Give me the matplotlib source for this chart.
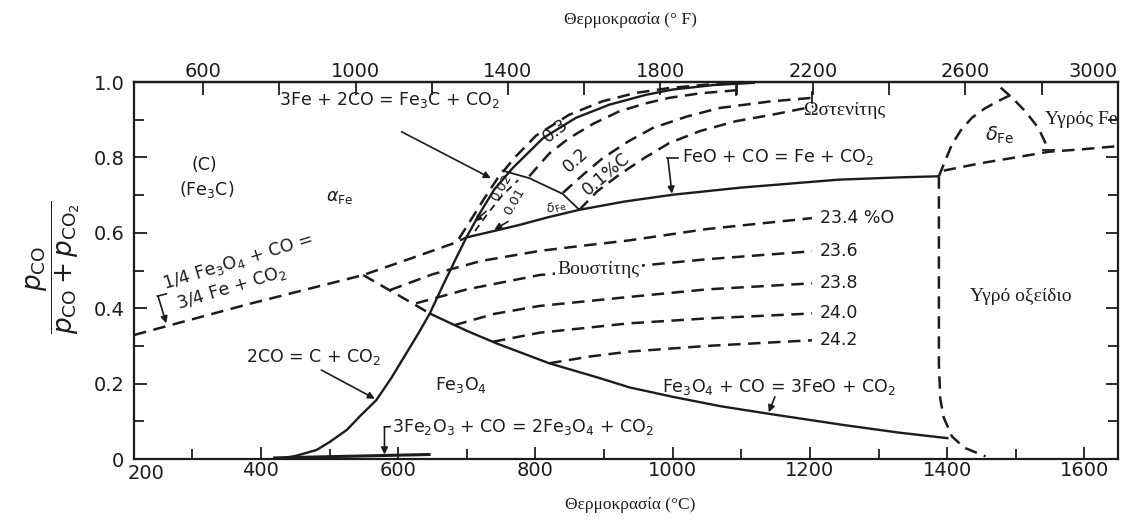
"""Fe-C-O equilibrium diagram (Baur-Glaessner) redrawn from the scanned figure."""
import matplotlib
matplotlib.use("Agg")
import matplotlib.pyplot as plt
import matplotlib.transforms as mtransforms
from matplotlib.ticker import FixedLocator

# all values: temperature in C, ratio pCO/(pCO+pCO2)
boudouard_t = [423, 450, 481, 500, 525, 545, 568, 590, 610, 630, 646, 665, 685, 700,
               720, 740, 767, 811, 859, 908, 961, 1000, 1060, 1120]
boudouard_y = [0.0, 0.008, 0.024, 0.045, 0.077, 0.115, 0.156, 0.215, 0.275, 0.335, 0.386,
               0.46, 0.535, 0.59, 0.655, 0.715, 0.772, 0.851, 0.905, 0.94, 0.966, 0.98,
               0.992, 0.998]

# Fe3O4/Fe line, metastable FeO/Fe part, then Fe3C line (one dashed path)
fe_fe3c_t = [215, 380, 549, 620, 685, 694, 709, 725, 745, 770, 801, 849, 898, 946, 995,
             1050, 1100]
fe_fe3c_y = [0.329, 0.41, 0.488, 0.533, 0.575, 0.60, 0.643, 0.69, 0.745, 0.80, 0.858,
             0.913, 0.949, 0.971, 0.984, 0.993, 0.998]

feo_fe_t = [690, 700, 740, 777, 820, 864, 930, 1000, 1100, 1242, 1330, 1388]
feo_fe_y = [0.58, 0.588, 0.605, 0.621, 0.642, 0.661, 0.683, 0.701, 0.72, 0.741, 0.747, 0.75]

mag_wus_dash_t = [549, 590, 620, 646]
mag_wus_dash_y = [0.488, 0.445, 0.414, 0.386]
mag_wus_t = [646, 700, 743, 820, 893, 937, 1000, 1070, 1140, 1250, 1330, 1402]
mag_wus_y = [0.386, 0.34, 0.307, 0.254, 0.215, 0.19, 0.165, 0.14, 0.12, 0.09, 0.07, 0.055]

hematite_t = [420, 645]
hematite_y = [0.003, 0.012]

# wustite iso-oxygen lines
oxygen_labels = ["23.4 %O", "23.6", "23.8", "24.0", "24.2"]
oxygen_t = [
    [588, 650, 720, 806, 870, 937, 1050, 1203],
    [626, 700, 806, 937, 1050, 1203],
    [682, 740, 806, 937, 1050, 1203],
    [738, 806, 937, 1050, 1203],
    [820, 880, 937, 1050, 1203],
]
oxygen_y = [
    [0.448, 0.49, 0.525, 0.552, 0.566, 0.58, 0.61, 0.639],
    [0.413, 0.45, 0.488, 0.51, 0.53, 0.551],
    [0.355, 0.385, 0.406, 0.43, 0.45, 0.466],
    [0.311, 0.335, 0.36, 0.373, 0.386],
    [0.254, 0.272, 0.285, 0.30, 0.315],
]

# alpha/gamma boundary and carbon isopleths
alpha_gamma_t = [752, 791, 840, 864]
alpha_gamma_y = [0.765, 0.745, 0.703, 0.661]
alpha_c_t = [712, 730, 752, 775]
alpha_c_y = [0.605, 0.65, 0.70, 0.74]
c03_t = [791, 820, 849, 885, 922, 960, 995, 1040, 1092]
c03_y = [0.75, 0.81, 0.851, 0.89, 0.922, 0.943, 0.958, 0.97, 0.978]
c02_t = [840, 870, 898, 935, 971, 1020, 1068, 1140, 1203]
c02_y = [0.706, 0.755, 0.798, 0.842, 0.878, 0.908, 0.931, 0.948, 0.958]
c01_t = [864, 890, 922, 960, 995, 1040, 1092, 1150, 1205]
c01_y = [0.661, 0.71, 0.754, 0.80, 0.838, 0.87, 0.896, 0.915, 0.935]

# high temperature boundaries
gamma_delta_t = [1388, 1398, 1407, 1420, 1436, 1455, 1475, 1492]
gamma_delta_y = [0.75, 0.795, 0.834, 0.872, 0.905, 0.93, 0.95, 0.965]
delta_liq_t = [1478, 1495, 1514, 1533, 1548]
delta_liq_y = [0.985, 0.958, 0.922, 0.878, 0.82]
liquid_fe_t = [1395, 1450, 1500, 1548, 1600, 1649]
liquid_fe_y = [0.765, 0.785, 0.80, 0.815, 0.822, 0.83]
liq_oxide_t = [1388, 1388, 1388, 1390, 1395, 1407, 1425, 1456]
liq_oxide_y = [0.75, 0.5, 0.25, 0.16, 0.11, 0.06, 0.03, 0.007]

c_ticks = [200, 400, 600, 800, 1000, 1200, 1400, 1600]
f_ticks = [600, 1000, 1400, 1800, 2200, 2600, 3000]
y_ticks = [0, 0.2, 0.4, 0.6, 0.8, 1.0]
y_labels = ["0", "0.2", "0.4", "0.6", "0.8", "1.0"]

INK = "#1c1c1c"
SANS = "DejaVu Sans"
SERIF = "Liberation Serif"
DASH = (0, (5, 3))


def c2f(t):
    return t * 9 / 5 + 32


def f2c(f):
    return (f - 32) * 5 / 9


def arrow(ax, tail, tip):
    ax.annotate("", xy=tip, xytext=tail,
                arrowprops=dict(arrowstyle="-|>", color=INK, lw=1.2,
                                mutation_scale=10, shrinkA=0, shrinkB=0))


def main():
    fig = plt.figure(figsize=(11.31, 5.24), dpi=100)
    ax = fig.add_axes([0.1185, 0.124, 0.870, 0.7195])
    ax.set_xlim(215, 1649)
    ax.set_ylim(0, 1)
    for sp in ax.spines.values():
        sp.set_linewidth(1.6)
        sp.set_color(INK)

    solid = dict(color=INK, lw=1.7, solid_capstyle="butt")
    dashed = dict(color=INK, lw=1.8, linestyle=DASH)

    ax.plot(boudouard_t, boudouard_y, **solid)
    ax.plot(fe_fe3c_t, fe_fe3c_y, **dashed)
    ax.plot(feo_fe_t, feo_fe_y, **solid)
    ax.plot(mag_wus_dash_t, mag_wus_dash_y, **dashed)
    ax.plot(mag_wus_t, mag_wus_y, **solid)
    ax.plot(hematite_t, hematite_y, color=INK, lw=2.2)
    for ts, ys in zip(oxygen_t, oxygen_y):
        ax.plot(ts, ys, **dashed)
    ax.plot(alpha_gamma_t, alpha_gamma_y, color=INK, lw=1.3)
    ax.plot(alpha_c_t, alpha_c_y, color=INK, lw=1.3, linestyle=(0, (4, 3)))
    for ts, ys in [(c03_t, c03_y), (c02_t, c02_y), (c01_t, c01_y)]:
        ax.plot(ts, ys, **dashed)
    ax.plot([c03_t[-1]] * 2, [c03_y[-1] - 0.012, c03_y[-1] + 0.012], color=INK, lw=1.3)
    ax.plot([c02_t[-1]] * 2, [c02_y[-1] - 0.015, c02_y[-1] + 0.015], color=INK, lw=1.3)
    ax.plot(gamma_delta_t, gamma_delta_y, **dashed)
    ax.plot(delta_liq_t, delta_liq_y, **dashed)
    ax.plot([1540, 1556], [delta_liq_y[-1]] * 2, color=INK, lw=1.3)
    ax.plot(liquid_fe_t, liquid_fe_y, **dashed)
    ax.plot(liq_oxide_t, liq_oxide_y, **dashed)

    # axes and ticks
    ax.xaxis.set_major_locator(FixedLocator(c_ticks))
    ax.xaxis.set_minor_locator(FixedLocator([t + 100 for t in c_ticks]))
    ax.set_xticklabels([""] + [str(t) for t in c_ticks[1:]])
    ax.yaxis.set_major_locator(FixedLocator(y_ticks))
    ax.yaxis.set_minor_locator(FixedLocator([v + 0.1 for v in y_ticks[:-1]]))
    ax.set_yticklabels(y_labels)
    ax.tick_params(which="both", direction="in", right=True, color=INK, width=1.3,
                   labelsize=14, labelcolor=INK)
    ax.tick_params(which="major", length=9)
    ax.tick_params(which="minor", length=7)
    ax.tick_params(axis="x", pad=1.5)
    ax.tick_params(axis="y", pad=7)
    for lab in ax.get_xticklabels() + ax.get_yticklabels():
        lab.set_family(SANS)
    low = mtransforms.blended_transform_factory(ax.transData, ax.transAxes)
    ax.text(233, -0.012, "200", transform=low, ha="center", va="top",
            fontsize=14, color=INK, family=SANS)

    top = ax.secondary_xaxis("top", functions=(c2f, f2c))
    top.xaxis.set_major_locator(FixedLocator(f_ticks))
    top.xaxis.set_minor_locator(FixedLocator([f + 200 for f in f_ticks[:-1]]))
    top.set_xticklabels([str(f) for f in f_ticks])
    top.tick_params(which="both", direction="in", color=INK, width=1.3,
                    labelsize=14, labelcolor=INK, pad=0.5)
    top.tick_params(which="major", length=9)
    top.tick_params(which="minor", length=9)
    top.spines["top"].set_linewidth(1.6)
    top.get_xticklabels()[-1].set_ha("right")

    fig.text(0.557, 0.962, "Θερμοκρασία (° F)", ha="center", va="center",
             fontsize=12.5, family=SERIF, color=INK)
    fig.text(0.557, 0.036, "Θερμοκρασία (°C)", ha="center", va="center",
             fontsize=12.5, family=SERIF, color=INK)
    fig.text(0.047, 0.49, r"$\dfrac{p_{\mathrm{CO}}}{p_{\mathrm{CO}}+p_{\mathrm{CO}_2}}$",
             rotation=90, ha="center", va="center", fontsize=19, color=INK)

    chem = dict(family=SANS, color=INK, fontsize=12.5)
    greek = dict(family=SERIF, color=INK, fontsize=14)

    ax.text(588, 0.952, r"3Fe + 2CO = Fe$_3$C + CO$_2$", ha="center", va="center", **chem)
    arrow(ax, (605, 0.868), (735, 0.745))
    ax.text(318, 0.78, "(C)", ha="center", va="center", **chem)
    ax.text(321, 0.715, r"(Fe$_3$C)", ha="center", va="center", **chem)
    ax.text(515, 0.696, r"$\alpha_{\mathrm{Fe}}$", ha="center", va="center", **chem)
    ax.text(367, 0.525, r"1/4 Fe$_3$O$_4$ + CO =", ha="center", va="center",
            rotation=17, **chem)
    ax.text(358, 0.455, r"3/4 Fe + CO$_2$", ha="center", va="center", rotation=17, **chem)
    ax.plot([249, 262], [0.432, 0.438], color=INK, lw=1.2)
    arrow(ax, (250, 0.432), (262, 0.36))

    ax.text(477, 0.27, r"2CO = C + CO$_2$", ha="center", va="center", **chem)
    arrow(ax, (488, 0.236), (566, 0.16))
    ax.text(692, 0.196, r"Fe$_3$O$_4$", ha="center", va="center", **chem)
    ax.text(591, 0.084, r"3Fe$_2$O$_3$ + CO = 2Fe$_3$O$_4$ + CO$_2$", ha="left",
            va="center", **chem)
    ax.plot([580, 588], [0.085, 0.086], color=INK, lw=1.2)
    arrow(ax, (580, 0.085), (580, 0.012))

    ax.text(1155, 0.192, r"Fe$_3$O$_4$ + CO = 3FeO + CO$_2$", ha="center", va="center", **chem)
    arrow(ax, (1149, 0.165), (1140, 0.124))
    ax.text(1014, 0.800, r"FeO + CO = Fe + CO$_2$", ha="left", va="center", **chem)
    ax.plot([992, 1008], [0.798, 0.798], color=INK, lw=1.2)
    arrow(ax, (993, 0.798), (999, 0.704))

    ax.text(1251, 0.925, "Ωστενίτης", ha="center", va="center", **greek)
    ax.text(892, 0.502, "Βουστίτης", ha="center", va="center",
            bbox=dict(fc="white", ec="none", pad=1.5), **greek)
    for lab, ts, ys in zip(oxygen_labels, oxygen_t, oxygen_y):
        ax.text(ts[-1] + 12, ys[-1], lab, ha="left", va="center", **chem)

    ax.text(830, 0.87, "0.3", ha="center", va="center", rotation=38, **chem)
    ax.text(859, 0.794, "0.2", ha="center", va="center", rotation=42, **chem)
    ax.text(903, 0.756, "0.1%C", ha="center", va="center", rotation=40, **chem)
    small = dict(family=SANS, color=INK, fontsize=9.5)
    ax.text(750, 0.719, "0.02", ha="center", va="center", rotation=60, **small)
    ax.text(769, 0.684, "0.01", ha="center", va="center", rotation=60, **small)
    ax.text(830, 0.667, r"$\delta_{\mathrm{Fe}}$", ha="center", va="center",
            rotation=18, **small)
    arrow(ax, (728, 0.657), (711, 0.63))
    arrow(ax, (760, 0.63), (740, 0.608))

    ax.text(1477, 0.858, r"$\delta_{\mathrm{Fe}}$", ha="center", va="center",
            family=SANS, color=INK, fontsize=14)
    ax.text(1596, 0.90, "Υγρός Fe", ha="center", va="center", **greek)
    ax.text(1508, 0.432, "Υγρό οξείδιο", ha="center", va="center", **greek)

    fig.savefig("out.png", dpi=100, facecolor="white")


if __name__ == "__main__":
    main()
